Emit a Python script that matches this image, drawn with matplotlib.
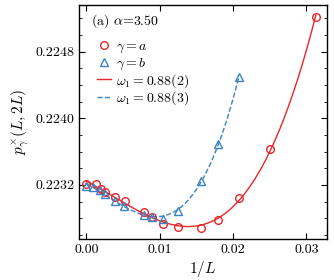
import matplotlib
matplotlib.use("Agg")
import matplotlib.pyplot as plt
from matplotlib.ticker import MultipleLocator, FormatStrFormatter
import numpy as np

plt.rcParams['font.family'] = 'serif'
plt.rcParams['font.serif'] = ['cmr10']
plt.rcParams['mathtext.fontset'] = 'cm'
plt.rcParams['axes.unicode_minus'] = False
plt.rcParams['axes.formatter.use_mathtext'] = True

# gamma = a
xa = [0.0, 0.00125, 0.00193, 0.00252, 0.00388, 0.00525, 0.00787, 0.00888,
      0.01046, 0.01251, 0.0156, 0.01787, 0.02082, 0.025, 0.03127]
ya = [0.22321, 0.22321, 0.22315, 0.22311, 0.22305, 0.22301, 0.22288, 0.22282,
      0.22273, 0.22269, 0.22268, 0.22278, 0.22304, 0.22363, 0.22522]

# gamma = b
xb = [0.0, 0.00093, 0.00184, 0.00252, 0.00388, 0.00511, 0.00787, 0.00888,
      0.01046, 0.01251, 0.0156, 0.01787, 0.02082]
yb = [0.22319, 0.22317, 0.22314, 0.22309, 0.22301, 0.22295, 0.22284, 0.22282,
      0.22279, 0.22289, 0.22325, 0.22369, 0.22449]

red = '#e8262a'
blue = '#3b84c4'

fig = plt.figure(figsize=(3.34, 2.80), dpi=100)
ax = fig.add_axes([0.2365, 0.1464, 0.7425, 0.8356])

# fitted curves (least squares polynomial through the points)
ca = np.polyfit(xa, ya, 3)
cb = np.polyfit(xb, yb, 3)
fa = np.linspace(0, max(xa), 200)
fb = np.linspace(0, max(xb), 200)
la, = ax.plot(fa, np.polyval(ca, fa), '-', color=red, lw=1.0)
lb, = ax.plot(fb, np.polyval(cb, fb), '--', color=blue, lw=1.0)
pa, = ax.plot(xa, ya, 'o', mfc='none', mec=red, ms=5.5, mew=1.0)
pb, = ax.plot(xb, yb, '^', mfc='none', mec=blue, ms=5.5, mew=1.0)

ax.set_xlim(-0.00102, 0.0328)
ax.set_ylim(0.22255, 0.22536)
ax.xaxis.set_major_locator(MultipleLocator(0.01))
ax.yaxis.set_major_locator(MultipleLocator(0.0008))
ax.yaxis.set_minor_locator(MultipleLocator(0.0002))
ax.xaxis.set_major_formatter(FormatStrFormatter('%.2f'))
ax.yaxis.set_major_formatter(FormatStrFormatter('%.4f'))
ax.tick_params(which='both', direction='in', top=True, right=True, labelsize=10)
ax.tick_params(which='major', length=4, width=0.8)
ax.tick_params(which='minor', length=2, width=0.6)
for s in ax.spines.values():
    s.set_linewidth(1.0)

ax.set_xlabel(r'$1/L$', fontsize=11, labelpad=2)
ax.set_ylabel(r'$p_\gamma^{\times}(L,2L)$', fontsize=11, labelpad=3)

ax.text(0.05, 0.915, r'(a) $\alpha$=3.50', transform=ax.transAxes, fontsize=10)

kw = dict(loc='upper left', frameon=False, fontsize=10, handlelength=1.0,
          handletextpad=0.4, borderpad=0.0, borderaxespad=0.0)
leg1 = ax.legend([pa, pb], [r'$\gamma=a$', r'$\gamma=b$'],
                 bbox_to_anchor=(0.072, 0.85), labelspacing=0.1, **kw)
ax.add_artist(leg1)
ax.legend([la, lb], [r'$\omega_1=0.88(2)$', r'$\omega_1=0.88(3)$'],
          bbox_to_anchor=(0.072, 0.715), labelspacing=0.0, **kw)

fig.savefig('out.png', dpi=100)
